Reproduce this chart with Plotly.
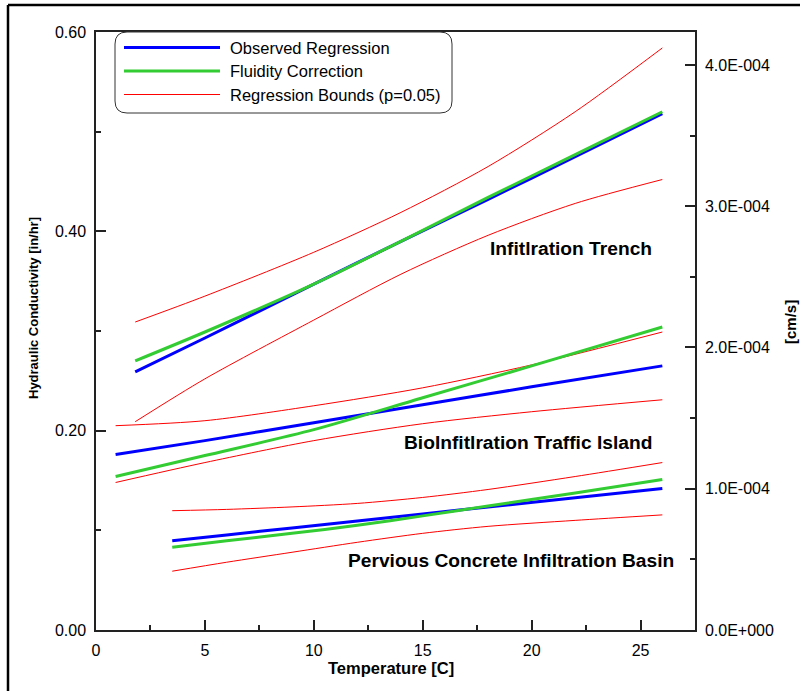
import plotly.graph_objects as go

# ---------------- data ----------------
# Infiltration Trench
it_T = [1.8, 5, 10, 14, 18, 22, 26]
it_obs = [0.259, 0.293, 0.347, 0.390, 0.432, 0.475, 0.518]
it_fluid = [0.270, 0.299, 0.347, 0.390, 0.434, 0.477, 0.520]
it_upper = [0.309, 0.335, 0.379, 0.419, 0.465, 0.520, 0.584]
it_lower = [0.209, 0.252, 0.311, 0.357, 0.396, 0.428, 0.452]

# BioInfiltration Traffic Island
bti_T = [0.9, 5, 10, 15, 20, 26]
bti_obs = [0.176, 0.190, 0.208, 0.226, 0.244, 0.265]
bti_fluid = [0.154, 0.175, 0.201, 0.233, 0.265, 0.304]
bti_upper = [0.205, 0.210, 0.225, 0.243, 0.266, 0.299]
bti_lower = [0.148, 0.168, 0.190, 0.207, 0.219, 0.231]

# Pervious Concrete Infiltration Basin
pc_T = [3.5, 6, 9, 12, 15, 18, 22, 26]
pc_obs = [0.0896, 0.0954, 0.1024, 0.1094, 0.1164, 0.1234, 0.1327, 0.1420]
pc_fluid = [0.0830, 0.0895, 0.0970, 0.1050, 0.1145, 0.1245, 0.1375, 0.1510]
pc_upper = [0.1197, 0.1210, 0.1235, 0.1270, 0.1330, 0.1410, 0.1540, 0.1680]
pc_lower = [0.0590, 0.0680, 0.0780, 0.0880, 0.0970, 0.1040, 0.1100, 0.1155]

x_ticks = [0, 5, 10, 15, 20, 25]
y_ticks = [0.0, 0.2, 0.4, 0.6]
y_ticklabels = ["0.00", "0.20", "0.40", "0.60"]
cm_ticks = [0.0, 1e-4, 2e-4, 3e-4, 4e-4]
cm_ticklabels = ["0.0E+000", "1.0E-004", "2.0E-004", "3.0E-004", "4.0E-004"]

legend_names = ["Observed Regression", "Fluidity Correction", "Regression Bounds (p=0.05)"]
site_labels = ["Infitlration Trench", "BioInfitlration Traffic Island",
               "Pervious Concrete Infiltration Basin"]

INHR_TO_CMS = 2.54 / 3600.0

# ---------------- styling ----------------
BLUE = "#0000ff"
GREEN = "#33cc33"
RED = "#ff0000"
FONT = "Liberation Sans, Arial, sans-serif"
AX = "#222222"

W, H = 800, 691
ML, MR, MT, MB = 96, 105, 32, 61
PW, PH = W - ML - MR, H - MT - MB


def px(x):
    return (x - ML) / PW


def py(y):
    return (H - MB - y) / PH


fig = go.Figure()

sites = [
    (it_T, it_obs, it_fluid, it_upper, it_lower),
    (bti_T, bti_obs, bti_fluid, bti_upper, bti_lower),
    (pc_T, pc_obs, pc_fluid, pc_upper, pc_lower),
]
for T, obs, fl, up, lo in sites:
    for ys in (up, lo):
        fig.add_trace(go.Scatter(x=T, y=ys, mode="lines", showlegend=False,
                                 line=dict(color=RED, width=1, shape="spline", smoothing=0.8)))
    fig.add_trace(go.Scatter(x=T, y=obs, mode="lines", showlegend=False,
                             line=dict(color=BLUE, width=3, shape="spline", smoothing=0.8)))
    fig.add_trace(go.Scatter(x=T, y=fl, mode="lines", showlegend=False,
                             line=dict(color=GREEN, width=3, shape="spline", smoothing=0.8)))

# secondary axis (cm/s) - carries the same observed trench line, invisible
fig.add_trace(go.Scatter(x=it_T, y=[v * INHR_TO_CMS for v in it_obs], yaxis="y2",
                         mode="lines", line=dict(width=0), opacity=0,
                         showlegend=False, hoverinfo="skip"))

axis_common = dict(showline=True, linecolor=AX, linewidth=1.5, ticks="inside",
                   tickcolor=AX, tickwidth=1.5, ticklen=10, showgrid=False,
                   zeroline=False, tickfont=dict(family=FONT, size=16, color="black"))

fig.update_layout(
    width=W, height=H,
    margin=dict(l=ML, r=MR, t=MT, b=MB),
    paper_bgcolor="white", plot_bgcolor="white",
    showlegend=False,
    xaxis=dict(range=[0, 27.5], tickvals=x_ticks, mirror=True, ticklabelstandoff=5,
               minor=dict(tickvals=[2.5, 7.5, 12.5, 17.5, 22.5], ticks="inside",
                          ticklen=5, tickcolor=AX, tickwidth=1.5),
               **axis_common),
    yaxis=dict(range=[0, 0.6], tickvals=y_ticks, ticktext=y_ticklabels, mirror=True,
               ticklabelstandoff=5,
               minor=dict(tickvals=[0.1, 0.3, 0.5], ticks="inside",
                          ticklen=5, tickcolor=AX, tickwidth=1.5),
               **axis_common),
    yaxis2=dict(range=[0, 0.6 * INHR_TO_CMS], overlaying="y", side="right",
                tickvals=cm_ticks, ticktext=cm_ticklabels, ticklabelstandoff=5,
                minor=dict(tickvals=[0.5e-4, 1.5e-4, 2.5e-4, 3.5e-4], ticks="inside",
                           ticklen=5, tickcolor=AX, tickwidth=1.5),
                **axis_common),
)

shapes = []
# outer frame: only its left and top edges are inside the picture
shapes.append(dict(type="line", xref="paper", yref="paper",
                   x0=px(8), x1=px(8), y0=py(5), y1=py(H + 5),
                   line=dict(color="black", width=2.5), layer="below"))
shapes.append(dict(type="line", xref="paper", yref="paper",
                   x0=px(8), x1=px(W + 5), y0=py(5), y1=py(5),
                   line=dict(color="black", width=2.5), layer="below"))

# legend box with rounded corners
L, R, T0, B, r = 115, 452, 32, 113, 12
path = (f"M {px(L + r)} {py(T0)} L {px(R - r)} {py(T0)} Q {px(R)} {py(T0)} {px(R)} {py(T0 + r)} "
        f"L {px(R)} {py(B - r)} Q {px(R)} {py(B)} {px(R - r)} {py(B)} "
        f"L {px(L + r)} {py(B)} Q {px(L)} {py(B)} {px(L)} {py(B - r)} "
        f"L {px(L)} {py(T0 + r)} Q {px(L)} {py(T0)} {px(L + r)} {py(T0)} Z")
shapes.append(dict(type="path", xref="paper", yref="paper", path=path,
                   fillcolor="white", line=dict(color="#333333", width=1)))

leg_rows = [(47.5, BLUE, 3), (71, GREEN, 3), (94.5, RED, 1)]
annotations = []
for (yy, col, wd), name in zip(leg_rows, legend_names):
    shapes.append(dict(type="line", xref="paper", yref="paper",
                       x0=px(124), x1=px(220), y0=py(yy), y1=py(yy),
                       line=dict(color=col, width=wd)))
    annotations.append(dict(xref="paper", yref="paper", x=px(228), y=py(yy),
                            xanchor="left", yanchor="middle", showarrow=False,
                            text=name, font=dict(family=FONT, size=16.5, color="black")))

# site labels (data coordinates)
site_pos = [(25.62, 0.383), (25.62, 0.1886), (26.62, 0.0702)]
for (sx, sy), lab in zip(site_pos, site_labels):
    annotations.append(dict(xref="x", yref="y", x=sx, y=sy, xanchor="right",
                            yanchor="middle", showarrow=False,
                            text=f"<b>{lab}</b>",
                            font=dict(family=FONT, size=19.2, color="black")))

# axis titles
annotations.append(dict(xref="paper", yref="paper", x=px(391), y=py(668),
                        xanchor="center", yanchor="middle", showarrow=False,
                        text="<b>Temperature [C]</b>",
                        font=dict(family=FONT, size=16.5, color="black")))
annotations.append(dict(xref="paper", yref="paper", x=px(33), y=py(308),
                        xanchor="center", yanchor="middle", showarrow=False,
                        textangle=-90, text="<b>Hydraulic Conductivity [in/hr]</b>",
                        font=dict(family=FONT, size=13, color="black")))
annotations.append(dict(xref="paper", yref="paper", x=px(790), y=py(322),
                        xanchor="center", yanchor="middle", showarrow=False,
                        textangle=-90, text="<b>[cm/s]</b>",
                        font=dict(family=FONT, size=15, color="black")))

fig.update_layout(shapes=shapes, annotations=annotations)
fig.write_html("out.html")
